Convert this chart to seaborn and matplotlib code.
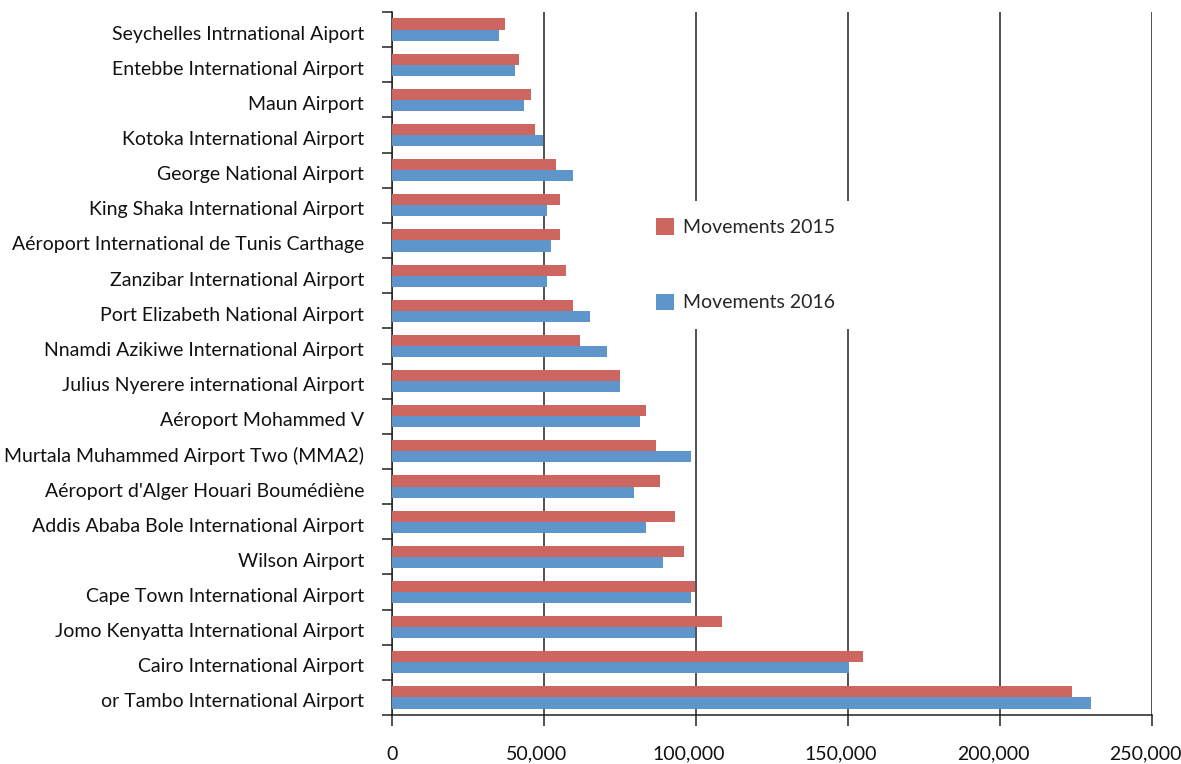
import matplotlib
matplotlib.use("Agg")
import matplotlib.pyplot as plt
import matplotlib.transforms as mtransforms
import seaborn as sns
import pandas as pd
from matplotlib.ticker import FuncFormatter, FixedLocator

airports = [
    "Seychelles Intrnational Aiport",
    "Entebbe International Airport",
    "Maun Airport",
    "Kotoka International Airport",
    "George National Airport",
    "King Shaka International Airport",
    "Aéroport International de Tunis Carthage",
    "Zanzibar International Airport",
    "Port Elizabeth National Airport",
    "Nnamdi Azikiwe International Airport",
    "Julius Nyerere international Airport",
    "Aéroport Mohammed V",
    "Murtala Muhammed Airport Two (MMA2)",
    "Aéroport d'Alger Houari Boumédiène",
    "Addis Ababa Bole International Airport",
    "Wilson Airport",
    "Cape Town International Airport",
    "Jomo Kenyatta International Airport",
    "Cairo International Airport",
    "or Tambo International Airport",
]
movements_2015 = [37200, 41800, 45800, 47100, 54000, 55400, 55400, 57300, 59600, 61900,
                  75100, 83400, 87000, 88000, 93200, 96200, 99800, 108700, 154900, 223700]
movements_2016 = [35300, 40500, 43500, 49800, 59600, 51100, 52400, 51100, 65200, 70800,
                  75100, 81700, 98200, 79700, 83400, 89300, 98200, 99800, 150200, 230000]
series_names = ["Movements 2015", "Movements 2016"]
colors = ["#CD6560", "#5E96CB"]
x_ticks = [0, 50000, 100000, 150000, 200000, 250000]

df = pd.DataFrame({
    "airport": airports * 2,
    "movements": movements_2015 + movements_2016,
    "series": [series_names[0]] * len(airports) + [series_names[1]] * len(airports),
})

sns.set_theme(style="white")
plt.rcParams["font.family"] = ["Lato", "DejaVu Sans"]

fig = plt.figure(figsize=(11.81, 7.64), dpi=100)
ax = fig.add_axes([0.3319, 0.0641, 0.9755 - 0.3319, 0.9843 - 0.0641])

sns.barplot(data=df, y="airport", x="movements", hue="series", order=airports,
            hue_order=series_names, palette=colors, orient="h", width=0.63,
            saturation=1, linewidth=0, edgecolor="none", ax=ax, zorder=3)

ax.set_xlim(0, 250000)
ax.set_ylim(len(airports) - 0.5, -0.5)
ax.set_xticks(x_ticks)
ax.xaxis.set_major_formatter(FuncFormatter(lambda v, p: f"{int(v):,}"))
ax.grid(axis="x", color="#222222", linewidth=1.1, zorder=0)
ax.grid(axis="y", visible=False)
ax.set_axisbelow(True)

ax.yaxis.set_minor_locator(FixedLocator([i - 0.5 for i in range(len(airports) + 1)]))
ax.tick_params(axis="y", which="major", length=0, pad=20, labelsize=14, colors="#111111")
ax.tick_params(axis="y", which="minor", length=7, width=1.1, color="#222222", left=True)
ax.tick_params(axis="x", which="major", length=8, width=1.1, color="#222222", bottom=True,
               pad=14, labelsize=14, labelcolor="#111111")

# small offsets to mimic the reference label placement
ydown = mtransforms.ScaledTranslation(0, -3 / 100, fig.dpi_scale_trans)
for lab in ax.get_yticklabels():
    lab.set_transform(lab.get_transform() + ydown)
xleft = mtransforms.ScaledTranslation(-7 / 100, 0, fig.dpi_scale_trans)
for lab in ax.get_xticklabels()[1:]:
    lab.set_transform(lab.get_transform() + xleft)

for s in ["top", "right"]:
    ax.spines[s].set_visible(False)
for s in ["left", "bottom"]:
    ax.spines[s].set_color("#222222")
    ax.spines[s].set_linewidth(1.1)

ax.set_xlabel("")
ax.set_ylabel("")

leg = ax.legend(loc="upper left", bbox_to_anchor=(0.312, 0.745), frameon=True,
                facecolor="white", edgecolor="none", framealpha=1, fontsize=14,
                handlelength=0.9, handleheight=0.9, handletextpad=0.45,
                labelspacing=2.95, borderpad=0.9)
leg.set_zorder(5)

fig.savefig("out.png", dpi=100)
